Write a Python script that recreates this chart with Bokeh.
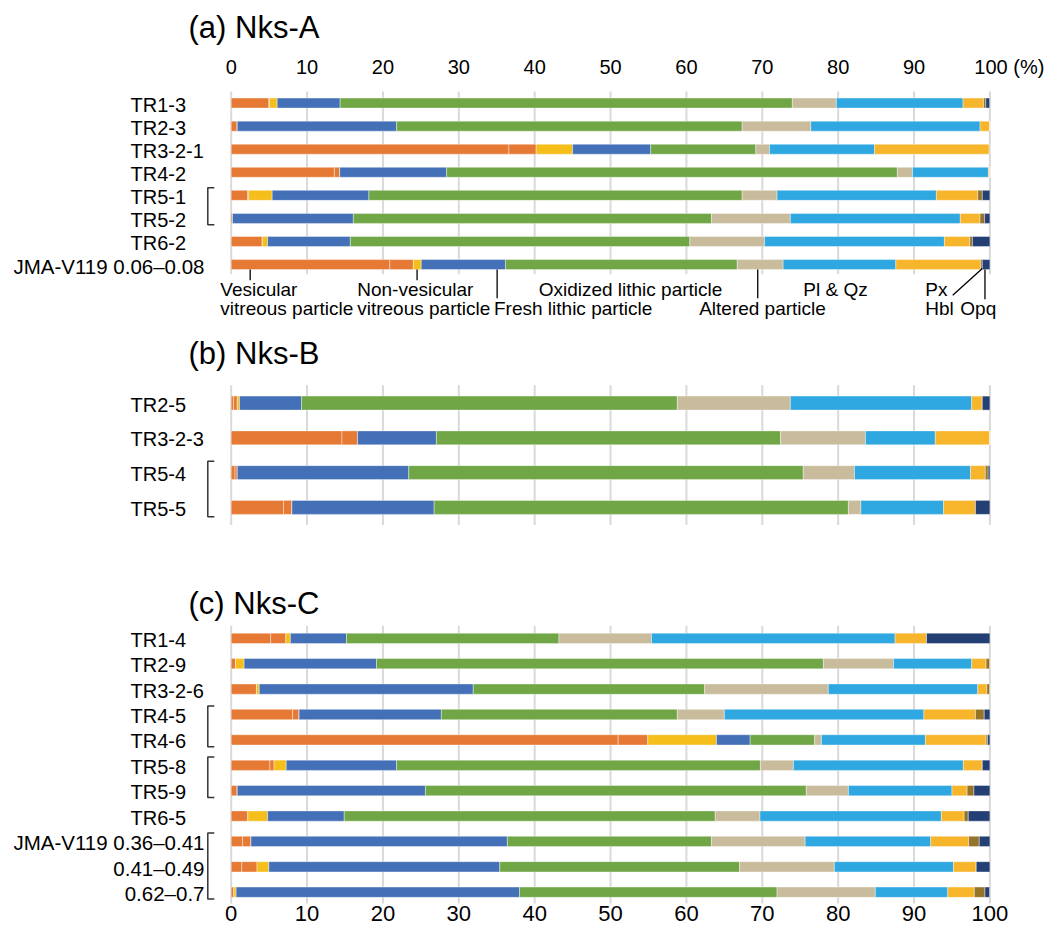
from bokeh.plotting import figure
from bokeh.models import Range1d, LinearAxis, FixedTicker, ColumnDataSource, Label, Title
from bokeh.embed import file_html
from bokeh.resources import INLINE
from bokeh.core.properties import value
import numpy as np

# ---------------- data ----------------
labels_a = ["TR1-3", "TR2-3", "TR3-2-1", "TR4-2", "TR5-1", "TR5-2", "TR6-2", "JMA-V119 0.06–0.08"]
labels_b = ["TR2-5", "TR3-2-3", "TR5-4", "TR5-5"]
labels_c = ["TR1-4", "TR2-9", "TR3-2-6", "TR4-5", "TR4-6", "TR5-8", "TR5-9", "TR6-5",
            "JMA-V119 0.36–0.41", "0.41–0.49", "0.62–0.7"]

# values (%) for rows a..., b..., c...
vesicular_1 = [4.96, 0.8, 36.6, 13.6, 2.15, 0.17, 4.1, 20.9,
               0.3, 14.6, 0.5, 6.9,
               5.2, 0.57, 3.33, 8.1, 51.0, 5.1, 0.8, 2.2, 1.5, 1.4, 0.35]
vesicular_2 = [0.1, 0, 3.6, 0.7, 0.15, 0, 0, 3.1,
               0.5, 2.05, 0.3, 1.1,
               2.0, 0, 0, 0.85, 3.9, 0.55, 0, 0, 1.1, 2.0, 0]
non_vesicular = [1.0, 0, 4.8, 0, 3.1, 0, 0.7, 1.05,
                 0.3, 0, 0, 0,
                 0.6, 1.13, 0.37, 0, 9.06, 1.6, 0, 2.6, 0, 1.56, 0.3]
fresh_lithic = [8.3, 21.0, 10.3, 14.1, 12.75, 15.93, 10.9, 11.1,
                8.17, 10.4, 22.6, 18.75,
                7.4, 17.45, 28.2, 18.75, 4.44, 14.55, 24.8, 10.1, 33.8, 30.44, 37.35]
oxidized_lithic = [59.6, 45.55, 13.85, 59.4, 49.2, 47.2, 44.75, 30.55,
                   49.53, 45.35, 52.0, 54.6,
                   28.0, 58.9, 30.5, 31.1, 8.5, 47.95, 50.2, 48.9, 26.9, 31.6, 33.95]
altered = [5.8, 9.05, 1.8, 2.0, 4.6, 10.4, 9.85, 6.05,
           14.9, 11.2, 6.75, 1.65,
           12.2, 9.25, 16.3, 6.2, 0.9, 4.35, 5.55, 5.9, 12.35, 12.5, 12.95]
pl_qz = [16.7, 22.3, 13.85, 10.0, 21.0, 22.4, 23.7, 14.85,
         23.9, 9.2, 15.3, 10.9,
         32.1, 10.3, 19.7, 26.3, 13.7, 22.4, 13.65, 23.9, 16.55, 15.7, 9.55]
px = [2.7, 1.3, 15.1, 0.2, 5.45, 2.6, 3.35, 11.16,
      1.4, 7.2, 1.95, 4.2,
      4.15, 1.9, 1.2, 6.8, 8.0, 2.5, 2.0, 3.0, 5.0, 3.0, 3.5]
hbl = [0.3, 0, 0.1, 0, 0.6, 0.6, 0.35, 0.24,
       0, 0, 0.37, 0,
       0, 0.5, 0.4, 1.15, 0.2, 0, 0.9, 0.55, 1.4, 0, 1.4]
opq = [0.5, 0, 0, 0, 1.0, 0.7, 2.3, 1.0,
       1.0, 0, 0.23, 1.9,
       8.35, 0, 0, 0.75, 0.3, 1.0, 2.1, 2.85, 1.4, 1.8, 0.6]

ticks = [0, 10, 20, 30, 40, 50, 60, 70, 80, 90, 100]
brackets = [("TR5-1", "TR5-2"), ("TR5-4", "TR5-5"), ("TR4-5", "TR4-6"),
            ("TR5-8", "TR5-9"), ("JMA-V119 0.36–0.41", "0.62–0.7")]

series = [vesicular_1, vesicular_2, non_vesicular, fresh_lithic, oxidized_lithic,
          altered, pl_qz, px, hbl, opq]
colors = ["#E67A35", "#E67A35", "#F5BE1B", "#4470B8", "#70A646",
          "#C9BC9D", "#2FA7E0", "#F7B52C", "#957328", "#243F74"]

# ---------------- layout ----------------
W, H = 1044, 931
FONT = "Liberation Sans"
X0_PAGE, PX_PER = 230.7, 7.587   # page x of value 0, pixels per unit
FRAME_TOP, FRAME_BOTTOM = 82, 905


def px2x(page_x):
    return (page_x - X0_PAGE) / PX_PER


# panel: (labels, first row centre y, row step, bar height, grid top, grid bottom)
panels = [(labels_a, 101.6, 23.1, 10.0, 90, 273),
          (labels_b, 402.0, 34.8, 14.0, 384, 524),
          (labels_c, 637.5, 25.42, 10.3, 625, 903)]

row_y, row_h, row_step = {}, {}, {}
for labs, y0, step, h, _, _ in panels:
    for i, lab in enumerate(labs):
        row_y[lab] = y0 + i * step
        row_h[lab] = h
        row_step[lab] = step

rows = labels_a + labels_b + labels_c
ys = [row_y[r] for r in rows]
hs = [row_h[r] for r in rows]

p = figure(width=W, height=H, output_backend="svg", toolbar_location=None,
           x_range=Range1d(px2x(0), px2x(W)),
           y_range=Range1d(FRAME_BOTTOM, FRAME_TOP),
           x_axis_location="above", y_axis_location=None,
           min_border_left=0, min_border_right=0,
           min_border_top=FRAME_TOP, min_border_bottom=H - FRAME_BOTTOM)
p.outline_line_color = None
p.grid.visible = False
p.background_fill_color = "white"
p.border_fill_color = "white"

p.title = Title(text="(a) Nks-A", align="left", offset=188, standoff=15,
                text_font=FONT, text_font_size="31px", text_font_style="normal",
                text_color="black")

bottom_axis = LinearAxis()
p.add_layout(bottom_axis, "below")

for ax, fs, so in [(p.xaxis[0], "20px", 6), (bottom_axis, "22px", 0)]:
    ax.ticker = FixedTicker(ticks=ticks)
    ax.axis_line_color = None
    ax.major_tick_line_color = None
    ax.minor_tick_line_color = None
    ax.major_tick_out = 0
    ax.major_tick_in = 0
    ax.major_label_standoff = so
    ax.major_label_text_font = FONT
    ax.major_label_text_font_size = fs
    ax.major_label_text_color = "black"
p.xaxis[0].major_label_overrides = {100: "\u00a0" * 7 + "100 (%)"}

# gridlines within each panel
for labs, y0, step, h, gt, gb in panels:
    p.segment(x0=ticks, x1=ticks, y0=[gt] * len(ticks), y1=[gb] * len(ticks),
              line_color="#D9D9D9", line_width=2)

# stacked bars
vals = np.array(series, dtype=float)
right = np.cumsum(vals, axis=0)
left = right - vals
for k in range(len(series)):
    src = ColumnDataSource(dict(y=ys, left=left[k], right=right[k], h=hs))
    p.hbar(y="y", left="left", right="right", height="h", source=src,
           fill_color=colors[k], line_color="white", line_alpha=0.55, line_width=0.7)

# row labels
tr_rows = [r for r in rows if r.startswith("TR")]
other_rows = [r for r in rows if not r.startswith("TR")]
p.text(x=[px2x(130)] * len(tr_rows), y=[row_y[r] + 1.5 for r in tr_rows], text=tr_rows,
       text_font=value(FONT), text_font_size="20px", text_align="left",
       text_baseline="middle", text_color="black")
p.text(x=[px2x(204)] * len(other_rows), y=[row_y[r] + 1.5 for r in other_rows], text=other_rows,
       text_font=value(FONT), text_font_size="20.5px", text_align="right",
       text_baseline="middle", text_color="black")

# brackets
bx, bs = px2x(207.3), px2x(213.8)
for a, b in brackets:
    top = row_y[a] - 0.33 * row_step[a]
    bot = row_y[b] + 0.27 * row_step[b]
    p.line(x=[bs, bx, bx, bs], y=[top, top, bot, bot], line_color="#333333", line_width=1.5)

# panel titles (b), (c)
for txt, ty in [("(b) Nks-B", 352), ("(c) Nks-C", 603)]:
    p.add_layout(Label(x=px2x(188), y=ty, text=txt, text_font=FONT, text_font_size="31px",
                       text_baseline="middle", text_align="left", text_color="black"))

# component labels under panel (a)
bar_bot = row_y[labels_a[-1]] + row_h[labels_a[-1]] / 2
L1, L2 = 288, 307
p.segment(x0=[2.5, 24.5, 35.05, 69.4, 99.35], x1=[2.5, 24.5, 35.05, 69.4, 99.35],
          y0=[bar_bot] * 5, y1=[279, 279, 297, 297, 298],
          line_color="black", line_width=1.3)
p.segment(x0=[95.1], x1=[99.0], y0=[294], y1=[bar_bot - 1], line_color="black", line_width=1.3)

ann = [("Vesicular", px2x(219.8), L1, "left"),
       ("vitreous particle", px2x(219.8), L2, "left"),
       ("Non-vesicular", px2x(356.7), L1, "left"),
       ("vitreous particle", px2x(356.7), L2, "left"),
       ("Fresh lithic particle", px2x(493.5), L2, "left"),
       ("Oxidized lithic particle", px2x(630), L1, "center"),
       ("Altered particle", px2x(762), L2, "center"),
       ("Pl & Qz", px2x(835), L1, "center"),
       ("Px", px2x(924.8), L1, "left"),
       ("Hbl", px2x(924.8), L2, "left"),
       ("Opq", px2x(959.8), L2, "left")]
for align in ["left", "center"]:
    sel = [a for a in ann if a[3] == align]
    p.text(x=[a[1] for a in sel], y=[a[2] for a in sel], text=[a[0] for a in sel],
           text_font=value(FONT), text_font_size="19px", text_align=align,
           text_baseline="middle", text_color="black")

open("out.html", "w").write(file_html(p, INLINE))
